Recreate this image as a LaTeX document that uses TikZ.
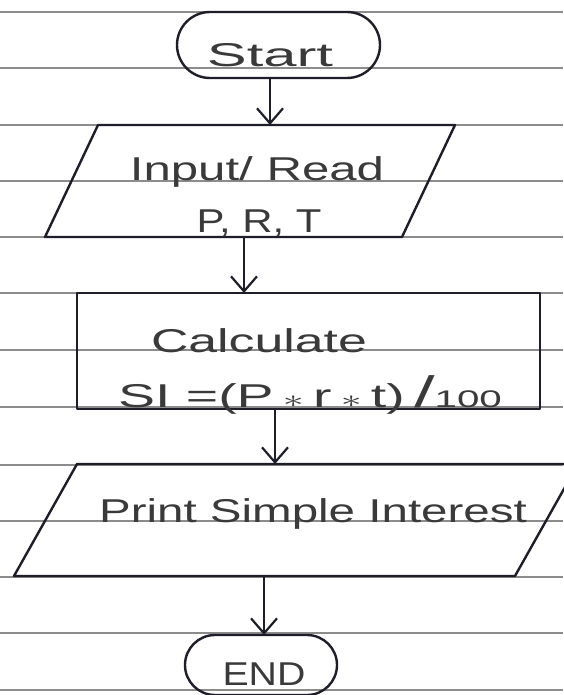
\documentclass[tikz,border=0pt]{standalone}
\usepackage{fontspec}
\setmainfont{Liberation Sans}
\usetikzlibrary{arrows.meta}
\definecolor{paper}{HTML}{8C8C8C}
\definecolor{ink}{HTML}{1E1E2A}
\definecolor{txt}{HTML}{3A3A3A}
\begin{document}
\begin{tikzpicture}[x=1pt,y=1pt,
  shp/.style={draw=ink, line width=2.4pt, inner sep=0pt, outer sep=0pt, line join=round},
  box/.style={inner sep=0pt, outer sep=0pt, rectangle},
  term/.style={shp, rectangle},
  proc/.style={shp, rectangle},
  hw/.style={text=txt, font=\fontsize{33}{36}\selectfont, inner sep=0pt, anchor=base, transform shape},
  arr/.style={draw=ink, line width=2.2pt, -{Straight Barb[length=15pt,width=26pt]}},
  pline/.style={draw=paper, line width=1.6pt}]
\useasboundingbox (0,0) rectangle (563,-695);
\fill[white] (0,0) rectangle (563,-695);
\foreach \y in {12,68,125,181,237,293,350,407,465,521,577,633,690}
  \draw[pline] (0,-\y) -- (563,-\y);
% shapes
\node[term, minimum width=203pt, minimum height=66pt, rounded corners=33pt] (start) at (278.5,-45) {};
\node[box, minimum width=410pt, minimum height=112pt] (input) at (250,-181) {};
\draw[shp] ([xshift=53pt]input.north west) -- (input.north east)
  -- ([xshift=-53pt]input.south east) -- (input.south west) -- cycle;
\node[proc, minimum width=463pt, minimum height=116pt] (calc) at (308.5,-351) {};
\node[box, minimum width=564pt, minimum height=112pt] (print) at (296,-520) {};
\draw[shp] ([xshift=63pt]print.north west) -- (print.north east)
  -- ([xshift=-63pt]print.south east) -- (print.south west) -- cycle;
\node[term, minimum width=152pt, minimum height=60pt, rounded corners=30pt] (end) at (261,-665) {};
% texts
\node[hw, xscale=1.81] (starttxt) at (270,-67) {Start};
\node[hw, xscale=1.49] (inputtxt) at (257,-180) {Input/ Read};
\node[hw, xscale=1.27] (prttxt) at (259,-232) {P, R, T};
\node[hw, xscale=1.57] (calctxt) at (259,-352) {Calculate};
\node[hw, xscale=1.68] (formtxt) at (310,-407) {SI =(P\,{\fontsize{44}{44}\selectfont$\ast$}\,r\,{\fontsize{44}{44}\selectfont$\ast$}\,t)\,{\fontsize{44}{44}\selectfont/}{\fontsize{24}{24}\selectfont 100}};
\node[hw, xscale=1.44] (printtxt) at (313,-522) {Print Simple Interest};
\node[hw, xscale=1.19] (endtxt) at (264,-685) {END};
% connectors
\draw[arr] ([xshift=-8.5pt]start.south) -- ([xshift=20pt]input.north);
\draw[arr] ([xshift=-6pt]input.south) -- ([xshift=-64.5pt]calc.north);
\draw[arr] ([xshift=-33.5pt]calc.south) -- ([xshift=-21pt]print.north);
\draw[arr] ([xshift=-32pt]print.south) -- ([xshift=3pt]end.north);
\end{tikzpicture}
\end{document}
